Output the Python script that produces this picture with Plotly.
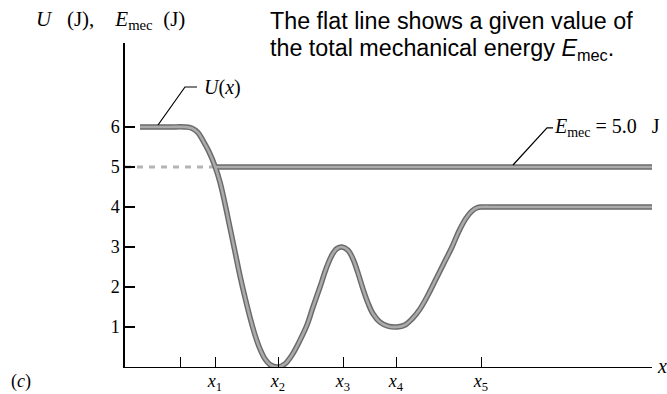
import plotly.graph_objects as go

# Potential energy curve U(x): points (x in arbitrary units, U in J)
u_x = [1.5, 3.0, 4.5, 6.0, 6.7, 7.3, 7.8, 8.4, 9.0, 9.5, 10.0, 10.5, 11.0, 11.5, 12.0,
       12.5, 13.0, 13.5, 14.0, 14.5, 15.3, 16.0, 16.7, 17.4, 18.2, 18.8, 19.5, 20.1,
       20.7, 21.2, 21.7, 22.3, 22.8, 23.3, 23.8, 24.3, 24.8, 25.5, 26.3, 27.2, 28.0,
       28.7, 29.5, 30.3, 31.1, 31.9, 32.7, 33.4, 34.1, 34.7, 35.2, 35.7, 37.0, 40.0,
       45.0, 53.0]
u_y = [6.0, 6.0, 6.0, 6.0, 5.97, 5.86, 5.66, 5.38, 5.02, 4.62, 4.08, 3.48, 2.88, 2.28, 1.74,
       1.24, 0.8, 0.45, 0.2, 0.06, 0.0, 0.08, 0.3, 0.62, 1.05, 1.5, 2.0, 2.45,
       2.8, 2.96, 3.0, 2.92, 2.7, 2.35, 1.95, 1.6, 1.33, 1.12, 1.02, 1.0, 1.05,
       1.2, 1.45, 1.8, 2.2, 2.6, 3.0, 3.4, 3.72, 3.9, 3.98, 4.0, 4.0, 4.0,
       4.0, 4.0]

# Total mechanical energy (flat line)
e_mec = 5.0
e_solid_x = [9.0, 53.0]
e_dash_x = [0.0, 9.0]

# Axis ticks
y_ticks = [1, 2, 3, 4, 5, 6]
x_tick_vals = [5.5, 9.0, 15.3, 21.8, 27.1, 35.6]
x_tick_text = ["", "<i>x</i><sub>1</sub>", "<i>x</i><sub>2</sub>", "<i>x</i><sub>3</sub>",
               "<i>x</i><sub>4</sub>", "<i>x</i><sub>5</sub>"]

SERIF = "Liberation Serif"
SANS = "Liberation Sans"
DARK = "#6a6a6a"
LIGHT = "#ababab"

# plot area in pixels (used to place texts that sit outside the axes)
W, H = 667, 394
ML, MR, MT, MB = 125, 15, 43, 27
PW, PH = W - ML - MR, H - MT - MB


def px(xpix):
    return (xpix - ML) / PW


def py(ypix):
    return (H - MB - ypix) / PH


fig = go.Figure()

# dashed part of E_mec (left of x1)
fig.add_trace(go.Scatter(x=e_dash_x, y=[e_mec, e_mec], mode="lines",
                         line=dict(color="#b4b4b4", width=3, dash="6px,6px"),
                         hoverinfo="skip", showlegend=False))

# double-stroke look: dark wide stroke under a lighter narrow stroke
for color, width in [(DARK, 5.5), (LIGHT, 2.6)]:
    fig.add_trace(go.Scatter(x=e_solid_x, y=[e_mec, e_mec], mode="lines",
                             line=dict(color=color, width=width),
                             hoverinfo="skip", showlegend=False))
    fig.add_trace(go.Scatter(x=u_x, y=u_y, mode="lines",
                             line=dict(color=color, width=width, shape="spline", smoothing=1.0),
                             hoverinfo="skip", showlegend=False))

# leader lines for the curve labels
fig.add_shape(type="path", path="M 3.3 6.05 L 6.0 7.0 L 7.2 7.0",
              line=dict(color="black", width=1.2), layer="above")
fig.add_shape(type="path", path="M 38.8 5.05 L 42.2 5.98 L 42.8 5.98",
              line=dict(color="black", width=1.2), layer="above")

annotations = [
    dict(x=px(202), y=py(87), text="<i>U</i>(<i>x</i>)", xanchor="left", yanchor="middle",
         font=dict(family=SERIF, size=20, color="black")),
    dict(x=px(552), y=py(127), text="<i>E</i><sub>mec</sub> = 5.0&nbsp;&nbsp; J",
         xanchor="left", yanchor="middle", font=dict(family=SERIF, size=20, color="black")),
    dict(x=px(268), y=py(21), text="The flat line shows a given value of", xanchor="left",
         yanchor="middle", font=dict(family=SANS, size=23.3, color="black")),
    dict(x=px(268), y=py(50), text="the total mechanical energy <i>E</i><sub>mec</sub>.",
         xanchor="left", yanchor="middle", font=dict(family=SANS, size=23.3, color="black")),
    dict(x=px(34), y=py(20),
         text="<i>U</i>&nbsp;&nbsp;&nbsp;(J),&nbsp;&nbsp;&nbsp;&nbsp;"
              "<i>E</i><sub>mec</sub>&nbsp;&nbsp;(J)",
         xanchor="left", yanchor="middle", font=dict(family=SERIF, size=21, color="black")),
    dict(x=px(9), y=py(381), text="(<i>c</i>)", xanchor="left", yanchor="middle",
         font=dict(family=SERIF, size=18, color="black")),
    dict(x=px(655), y=py(366), text="<i>x</i>", xanchor="left", yanchor="middle",
         font=dict(family=SERIF, size=20, color="black")),
]
for a in annotations:
    a.update(xref="paper", yref="paper", showarrow=False)

fig.update_layout(
    width=W, height=H,
    margin=dict(l=ML, r=MR, t=MT, b=MB, autoexpand=False),
    paper_bgcolor="white", plot_bgcolor="white",
    annotations=annotations,
    xaxis=dict(range=[0, 52.7], showgrid=False, zeroline=False, showline=True,
               linecolor="black", linewidth=1.3, ticks="inside", ticklen=10,
               tickwidth=1.2, tickcolor="black", tickmode="array",
               tickvals=x_tick_vals, ticktext=x_tick_text, automargin=False,
               ticklabelstandoff=-3,
               tickfont=dict(family=SERIF, size=18, color="black"), fixedrange=True),
    yaxis=dict(range=[0, 8.1], showgrid=False, zeroline=False, showline=True,
               linecolor="black", linewidth=1.5, ticks="inside", ticklen=10,
               tickwidth=1.5, tickcolor="black", tickmode="array", tickvals=y_ticks,
               automargin=False,
               tickfont=dict(family=SERIF, size=18, color="black"), fixedrange=True),
)

fig.write_html("out.html", config={"displayModeBar": False})
